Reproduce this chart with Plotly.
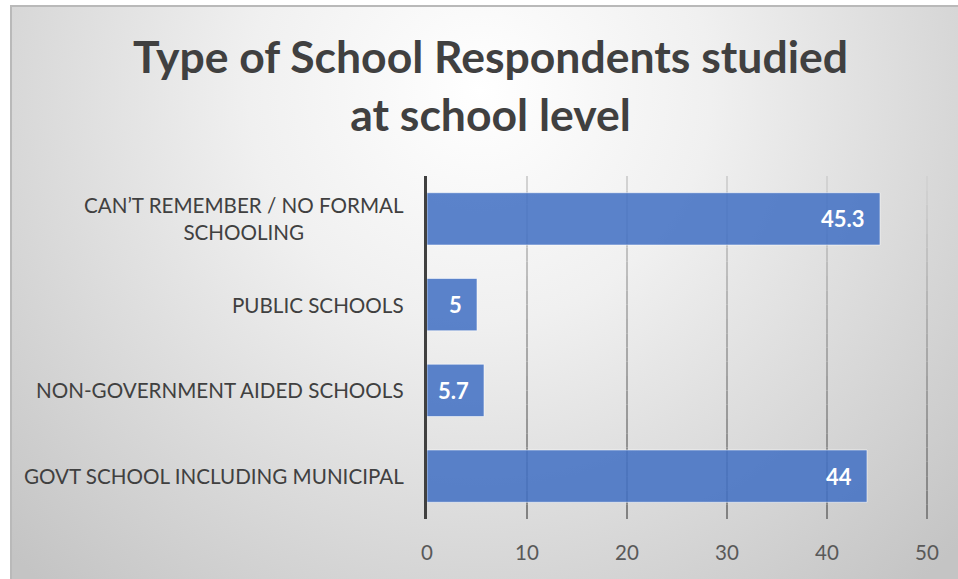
import base64
import plotly.graph_objects as go

# Survey data: type of school attended by respondents (%)
categories = [
    "CAN\u2019T REMEMBER / NO FORMAL<br>SCHOOLING",
    "PUBLIC SCHOOLS",
    "NON-GOVERNMENT AIDED SCHOOLS",
    "GOVT SCHOOL INCLUDING MUNICIPAL",
]
values = [45.3, 5, 5.7, 44]
x_ticks = [0, 10, 20, 30, 40, 50]

title_text = "Type of School Respondents studied<br>at school level"

W, H = 958, 579
X_MAX = 50.3  # a little headroom so the last gridline is not clipped
M_L, M_T, M_B = 427, 176, 60
PX_PER_UNIT = 10.0
plot_w = round(X_MAX * PX_PER_UNIT)
M_R = W - M_L - plot_w
plot_h = H - M_T - M_B

FONT = "Lato, 'Open Sans', sans-serif"
TEXT_DARK = "#404040"

# Radial grey background with a thin frame, supplied as an SVG image
bg_w, bg_h = W - 10, H - 5
svg = f"""<svg xmlns='http://www.w3.org/2000/svg' width='{bg_w}' height='{bg_h}' viewBox='0 0 {bg_w} {bg_h}' preserveAspectRatio='none'>
<defs><radialGradient id='g' gradientUnits='userSpaceOnUse' cx='470' cy='85' r='660'>
<stop offset='0' stop-color='#ffffff'/><stop offset='0.35' stop-color='#f0f0f0'/><stop offset='1' stop-color='#c4c4c4'/>
</radialGradient></defs>
<rect x='0' y='0' width='{bg_w}' height='{bg_h}' fill='url(#g)'/>
<path d='M1,{bg_h} L1,1 L{bg_w},1' fill='none' stroke='#b9b9b9' stroke-width='2'/>
</svg>"""
svg_uri = "data:image/svg+xml;base64," + base64.b64encode(svg.encode()).decode()

fig = go.Figure()
fig.add_trace(go.Bar(
    x=values,
    y=categories,
    orientation="h",
    marker=dict(color="rgba(68,114,196,0.88)",
                line=dict(color="rgba(255,255,255,0.55)", width=1)),
    hoverinfo="skip",
))

# Vertical gridlines shaded from light (top) to dark (bottom)
n_seg = 24
top_rgb, bot_rgb = (212, 212, 212), (128, 128, 128)
shapes = []
for t in x_ticks[1:]:
    for i in range(n_seg):
        f = (i + 0.5) / n_seg
        c = tuple(round(bot_rgb[k] + (top_rgb[k] - bot_rgb[k]) * f) for k in range(3))
        shapes.append(dict(type="line", xref="x", yref="paper",
                           x0=t, x1=t, y0=i / n_seg, y1=(i + 1) / n_seg,
                           line=dict(color=f"rgb{c}", width=2), layer="below"))

annotations = []
# Category labels, centred line by line
for cat in categories:
    annotations.append(dict(xref="paper", yref="y", x=0, y=cat, xanchor="right",
                            xshift=-21, align="center", showarrow=False, text=cat,
                            font=dict(family=FONT, size=20.6, color=TEXT_DARK)))
# Value labels at the inside end of each bar
for cat, v in zip(categories, values):
    annotations.append(dict(xref="x", yref="y", x=v, y=cat, xanchor="right",
                            xshift=-13, showarrow=False, text=f"{v:g}",
                            font=dict(family=FONT, size=22, color="white", weight="bold")))
# Title
annotations.append(dict(xref="paper", yref="paper",
                        x=(490 - M_L) / plot_w, y=(H - M_B - 85) / plot_h,
                        xanchor="center", yanchor="middle", showarrow=False,
                        text=title_text, align="center",
                        font=dict(family=FONT, size=44.5, color=TEXT_DARK, weight="bold")))

fig.update_layout(
    width=W, height=H,
    margin=dict(l=M_L, r=M_R, t=M_T, b=M_B),
    paper_bgcolor="white",
    plot_bgcolor="rgba(0,0,0,0)",
    showlegend=False,
    bargap=0.39,
    shapes=shapes,
    annotations=annotations,
    images=[dict(source=svg_uri, xref="paper", yref="paper",
                 x=(10 - M_L) / plot_w, y=(H - M_B - 5) / plot_h,
                 sizex=bg_w / plot_w, sizey=bg_h / plot_h,
                 xanchor="left", yanchor="top", sizing="stretch", layer="below")],
    xaxis=dict(range=[0, X_MAX], tickvals=x_ticks, showgrid=False, zeroline=False,
               showline=False, ticks="outside", ticklen=15, tickcolor="rgba(0,0,0,0)",
               tickfont=dict(family=FONT, size=20.5, color="#595959"), fixedrange=True),
    yaxis=dict(autorange="reversed", showticklabels=False, showgrid=False,
               zeroline=False, showline=True, linecolor=TEXT_DARK, linewidth=3,
               ticks="", fixedrange=True),
)

fig.write_html("out.html")
